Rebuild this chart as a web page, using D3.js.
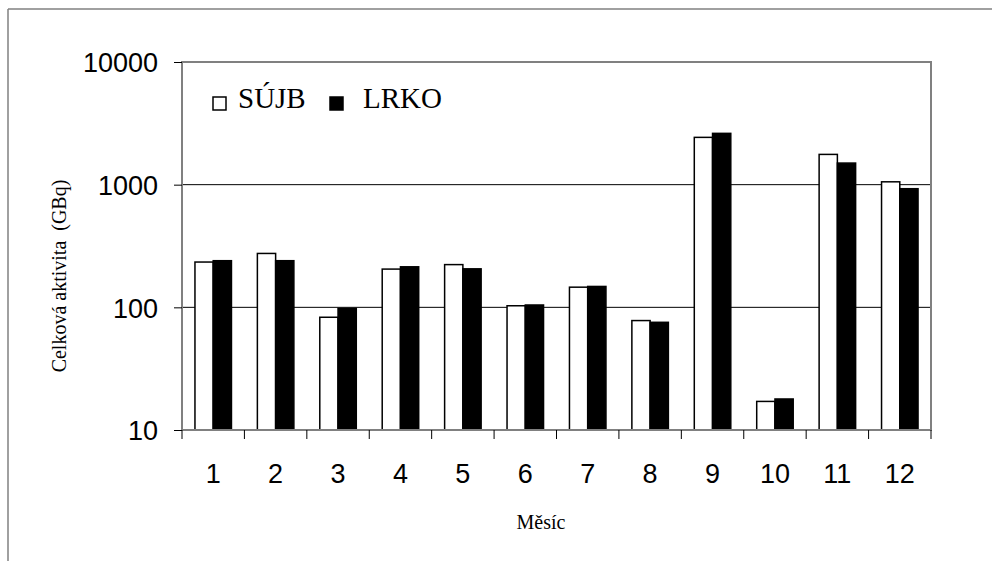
<!DOCTYPE html>
<html><head><meta charset="utf-8">
<script src="https://cdn.jsdelivr.net/npm/d3@7"></script>
<style>body{margin:0;background:#fff}svg{display:block}text{fill:#000}</style>
</head><body>
<svg id="c" width="992" height="561"></svg>
<script>
const months = ["1","2","3","4","5","6","7","8","9","10","11","12"];
const seriesNames = ["SÚJB","LRKO"];
const sujb = [234, 275, 83, 205, 223, 103, 146, 78, 2430, 17.1, 1765, 1055];
const lrko = [240, 240, 98, 214, 206, 104.5, 148, 75.5, 2620, 17.9, 1500, 927];
const yTicks = [10, 100, 1000, 10000];
const colors = ["#ffffff", "#000000"];

const svg = d3.select("#c");
const L = 182, R = 931, T = 62, B = 430;

// outer frame
svg.append("line").attr("x1",8).attr("x2",8).attr("y1",9).attr("y2",561).attr("stroke","#808080").attr("stroke-width",1.5);
svg.append("line").attr("x1",8).attr("x2",992).attr("y1",9).attr("y2",9).attr("stroke","#808080").attr("stroke-width",1.5);

const y = d3.scaleLog().domain([10,10000]).range([B,T]);
const x0 = d3.scaleBand().domain(months).range([L,R]).padding(0);
const x1 = d3.scaleBand().domain(seriesNames).range([0,x0.bandwidth()]).paddingInner(0).paddingOuter(0.71);

// gridlines
svg.append("g").selectAll("line").data([100,1000]).join("line")
  .attr("x1",L).attr("x2",R).attr("y1",d=>y(d)).attr("y2",d=>y(d))
  .attr("stroke","#000").attr("stroke-width",1);

// bars
const data = months.map((m,i)=>({m, vals:[sujb[i], lrko[i]]}));
const g = svg.append("g");
data.forEach(d=>{
  seriesNames.forEach((s,j)=>{
    g.append("rect")
      .attr("x", x0(d.m)+x1(s))
      .attr("y", y(d.vals[j]))
      .attr("width", x1.bandwidth())
      .attr("height", B - y(d.vals[j]))
      .attr("fill", colors[j])
      .attr("stroke", "#000").attr("stroke-width", 1.5);
  });
});

// plot border
svg.append("rect").attr("x",L).attr("y",T).attr("width",R-L).attr("height",B-T)
  .attr("fill","none").attr("stroke","#808080").attr("stroke-width",2);

// y axis
const yAxis = d3.axisLeft(y).tickValues(yTicks).tickFormat(d3.format("d")).tickSize(8).tickPadding(16);
const ya = svg.append("g").attr("transform",`translate(${L},0)`).call(yAxis);
ya.select(".domain").remove();
ya.selectAll("line").attr("stroke","#000");
ya.selectAll("text").attr("font-family","Liberation Sans, Arial, sans-serif").attr("font-size",27).attr("fill","#000").attr("dy","0.36em");

// x axis
const xAxis = d3.axisBottom(x0).tickSize(0).tickPadding(0);
const xa = svg.append("g").attr("transform",`translate(0,${B})`).call(xAxis);
xa.select(".domain").remove();
xa.selectAll("text").attr("font-family","Liberation Sans, Arial, sans-serif").attr("font-size",27).attr("fill","#000").attr("dy",null).attr("y",53);
// x tick marks at band boundaries
const bounds = months.map(m=>x0(m)).concat([x0(months[months.length-1])+x0.bandwidth()]);
svg.append("g").selectAll("line").data(bounds).join("line")
  .attr("x1",d=>d).attr("x2",d=>d).attr("y1",B).attr("y2",B+9)
  .attr("stroke","#000").attr("stroke-width",1);

// axis titles
svg.append("text").attr("x",541).attr("y",529).attr("text-anchor","middle").attr("fill","#000")
  .attr("font-family","Liberation Serif, Times New Roman, serif").attr("font-size",20).text("Měsíc");
svg.append("text").attr("transform","translate(66,276) rotate(-90)").attr("text-anchor","middle").attr("fill","#000")
  .attr("font-family","Liberation Serif, Times New Roman, serif").attr("font-size",20)
  .style("white-space","pre").text("Celková aktivita  (GBq)");

// legend
const lg = svg.append("g");
const legendX = [213, 330];
const legendTextX = [238, 363];
seriesNames.forEach((s,j)=>{
  lg.append("rect").attr("x",legendX[j]).attr("y",97).attr("width",13).attr("height",13)
    .attr("fill",colors[j]).attr("stroke","#000").attr("stroke-width",1.5);
  lg.append("text").attr("x",legendTextX[j]).attr("y",108).attr("fill","#000")
    .attr("font-family","Liberation Serif, Times New Roman, serif").attr("font-size",29).text(s);
});
</script>
</body></html>
